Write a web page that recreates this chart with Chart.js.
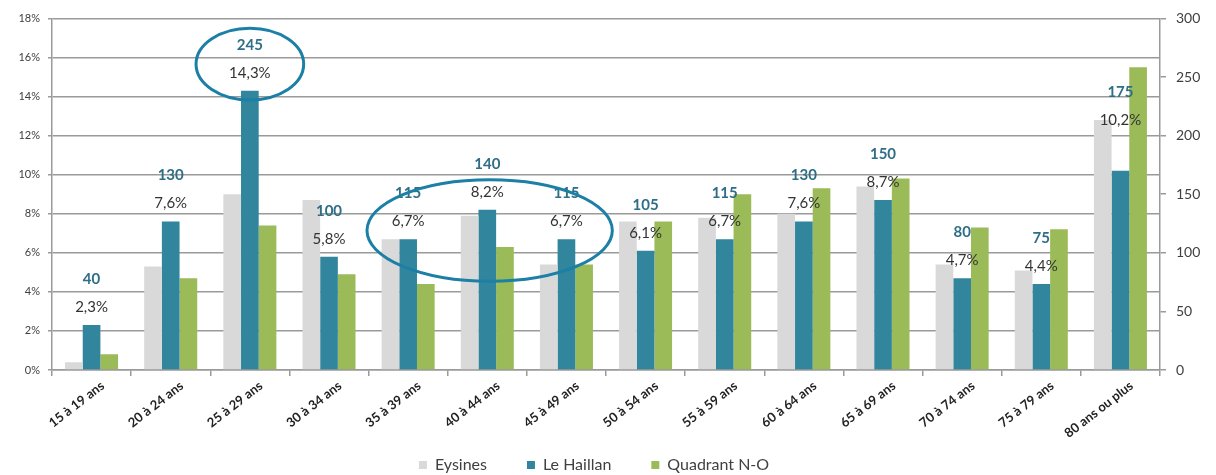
<!DOCTYPE html>
<html lang="fr">
<head>
<meta charset="utf-8">
<title>Population par tranche d'âge</title>
<script src="https://cdn.jsdelivr.net/npm/chart.js@4"></script>
<style>
  html, body { margin: 0; padding: 0; background: #ffffff; }
  #wrap { position: relative; width: 1216px; height: 475px; }
</style>
</head>
<body>
<div id="wrap"><canvas id="age-chart"></canvas></div>
<script>
/**
 * Age pyramid comparison: Eysines / Le Haillan / Quadrant N-O
 */

// Categories (age groups)
const ageGroups = [
  "15 à 19 ans", "20 à 24 ans", "25 à 29 ans", "30 à 34 ans", "35 à 39 ans",
  "40 à 44 ans", "45 à 49 ans", "50 à 54 ans", "55 à 59 ans", "60 à 64 ans",
  "65 à 69 ans", "70 à 74 ans", "75 à 79 ans", "80 ans ou plus",
];

// Share of population per age group (%)
const eysines = [0.4, 5.3, 9.0, 8.7, 6.7, 7.9, 5.4, 7.6, 7.8, 8.0, 9.4, 5.4, 5.1, 12.8];
const leHaillan = [2.3, 7.6, 14.3, 5.8, 6.7, 8.2, 6.7, 6.1, 6.7, 7.6, 8.7, 4.7, 4.4, 10.2];
const quadrantNO = [0.8, 4.7, 7.4, 4.9, 4.4, 6.3, 5.4, 7.6, 9.0, 9.3, 9.8, 7.3, 7.2, 15.5];

// Le Haillan head counts shown above the bars
const leHaillanCounts = [40, 130, 245, 100, 115, 140, 115, 105, 115, 130, 150, 80, 75, 175];

// Axis ticks
const leftTicks = [0, 2, 4, 6, 8, 10, 12, 14, 16, 18];
const rightTicks = [0, 50, 100, 150, 200, 250, 300];

// Highlight ellipses: centre (category index, % value) and radii (categories, %)
const highlightCentres = [[2, 15.66], [5.03, 7.14]];
const highlightRadii = [[0.68, 1.84], [1.55, 2.6]];

const COLORS = {
  grey: "#d9d9d9",
  teal: "#31859c",
  green: "#9bbb59",
  grid: "#9a9a9a",
  text: "#404040",
  count: "#2f6e86",
  ring: "#1b7fa6",
};

const FONT = "Lato, 'Open Sans', sans-serif";

/**
 * Draws the count + percentage labels above Le Haillan bars
 */
const barLabels = {
  id: "barLabels",
  afterDatasetsDraw(chart) {
    const { ctx } = chart;
    const meta = chart.getDatasetMeta(1);
    ctx.save();
    ctx.textAlign = "center";
    ctx.textBaseline = "middle";
    meta.data.forEach((bar, i) => {
      // last group's labels were moved up by hand in the original
      const lift = i === leHaillan.length - 1 ? 33 : 0;
      ctx.font = "15px " + FONT;
      ctx.fillStyle = "#333333";
      ctx.fillText(leHaillan[i].toFixed(1).replace(".", ",") + "%", bar.x, bar.y - 18 - lift);
      ctx.font = "bold 15px " + FONT;
      ctx.fillStyle = COLORS.count;
      ctx.fillText(String(leHaillanCounts[i]), bar.x, bar.y - 46 - lift);
    });
    ctx.restore();
  },
};

/**
 * Draws the highlight ellipses using the chart scales
 */
const highlights = {
  id: "highlights",
  afterDatasetsDraw(chart) {
    const { ctx } = chart;
    const x = chart.scales.x;
    const y = chart.scales.y;
    const catWidth = x.getPixelForValue(1) - x.getPixelForValue(0);
    const unitHeight = y.getPixelForValue(0) - y.getPixelForValue(1);
    ctx.save();
    ctx.strokeStyle = COLORS.ring;
    ctx.lineWidth = 3;
    highlightCentres.forEach(([ci, val], k) => {
      const base = Math.floor(ci);
      const cx = x.getPixelForValue(base) + (ci - base) * catWidth;
      const cy = y.getPixelForValue(val);
      ctx.beginPath();
      ctx.ellipse(cx, cy, highlightRadii[k][0] * catWidth, highlightRadii[k][1] * unitHeight, 0, 0, Math.PI * 2);
      ctx.stroke();
    });
    ctx.restore();
  },
};

/**
 * The legend uses a wide label padding for spacing between items,
 * which would also push it down; pull its box back up after layout
 * (and a little to the left, like the original)
 */
const legendLift = {
  id: "legendLift",
  afterLayout(chart) {
    const legend = chart.legend;
    legend.top = chart.height - 58;
    legend.left -= 14;
    legend.right -= 14;
  },
};

const ctx = document.getElementById("age-chart").getContext("2d");

new Chart(ctx, {
  type: "bar",
  data: {
    labels: ageGroups,
    datasets: [
      { label: "Eysines", data: eysines, backgroundColor: COLORS.grey },
      { label: "Le Haillan", data: leHaillan, backgroundColor: COLORS.teal },
      { label: "Quadrant N-O", data: quadrantNO, backgroundColor: COLORS.green },
    ],
  },
  options: {
    responsive: true,
    maintainAspectRatio: false,
    animation: false,
    layout: { padding: { top: 17, left: 0, right: 0, bottom: 0 } },
    datasets: {
      bar: { barPercentage: 1, categoryPercentage: 0.67 },
    },
    plugins: {
      tooltip: { enabled: false },
      legend: {
        position: "bottom",
        maxHeight: 35,
        labels: {
          color: COLORS.text,
          font: { family: FONT, size: 16 },
          boxWidth: 8,
          boxHeight: 8,
          padding: 40,
        },
      },
    },
    scales: {
      x: {
        afterFit(scale) {
          scale.height = 70;
        },
        border: { color: COLORS.grid, width: 1.5 },
        grid: {
          offset: true,
          drawOnChartArea: false,
          drawTicks: true,
          tickLength: 6,
          color: COLORS.grid,
          lineWidth: 1.5,
        },
        ticks: {
          color: "#222222",
          font: { family: FONT, size: 13, weight: "bold" },
          minRotation: 38,
          maxRotation: 38,
          padding: 2,
          labelOffset: 11,
          autoSkip: false,
        },
      },
      y: {
        position: "left",
        min: leftTicks[0],
        max: leftTicks[leftTicks.length - 1],
        afterFit(scale) {
          scale.width = 52;
        },
        afterBuildTicks(scale) {
          scale.ticks = leftTicks.map((v) => ({ value: v }));
        },
        border: { color: COLORS.grid, width: 1.5 },
        grid: { color: COLORS.grid, lineWidth: 1.5, tickLength: 4 },
        ticks: {
          color: COLORS.text,
          font: { family: FONT, size: 11 },
          padding: 8,
          callback: (v) => v + "%",
        },
      },
      y1: {
        position: "right",
        min: rightTicks[0],
        max: rightTicks[rightTicks.length - 1],
        afterFit(scale) {
          scale.width = 56;
        },
        afterBuildTicks(scale) {
          scale.ticks = rightTicks.map((v) => ({ value: v }));
        },
        border: { color: COLORS.grid, width: 1.5 },
        grid: {
          drawOnChartArea: false,
          color: COLORS.grid,
          lineWidth: 1.5,
          tickLength: 6,
        },
        ticks: {
          color: COLORS.text,
          font: { family: FONT, size: 14 },
          padding: 10,
        },
      },
    },
  },
  plugins: [barLabels, highlights, legendLift],
});
</script>
</body>
</html>
